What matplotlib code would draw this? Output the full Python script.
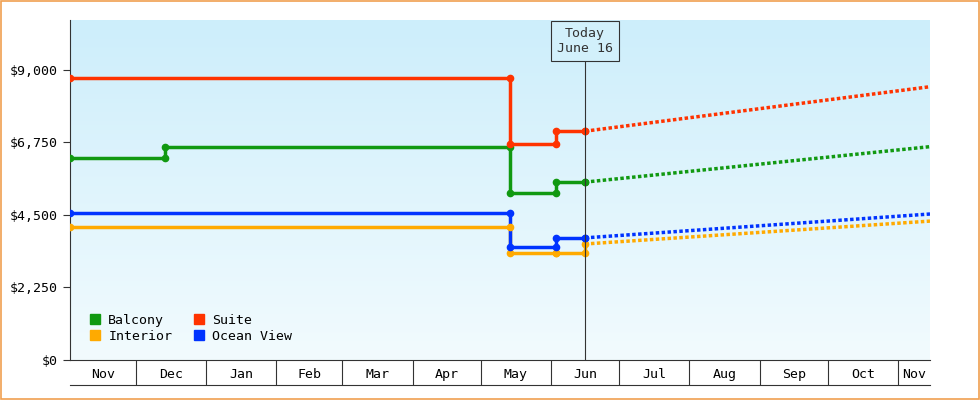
import matplotlib
matplotlib.use("Agg")
import matplotlib.pyplot as plt
import matplotlib.dates as mdates
import numpy as np
from datetime import date

plt.rcParams['font.family'] = ['DejaVu Sans Mono']

start = date(2023, 11, 2)
end = date(2024, 11, 15)
today = date(2024, 6, 16)

names = ["Balcony", "Suite", "Interior", "Ocean View"]
colors = ["#119911", "#ff3300", "#ffaa00", "#0033ff"]
hist_dates = {
    "Balcony": [date(2023, 11, 2), date(2023, 12, 14), date(2024, 5, 14), date(2024, 6, 3)],
    "Suite": [date(2023, 11, 2), date(2024, 5, 14), date(2024, 6, 3)],
    "Interior": [date(2023, 11, 2), date(2024, 5, 14), date(2024, 6, 3)],
    "Ocean View": [date(2023, 11, 2), date(2024, 5, 14), date(2024, 6, 3)],
}
hist_vals = {
    "Balcony": [6270, 6610, 5190, 5520],
    "Suite": [8760, 6700, 7100],
    "Interior": [4130, 3320, 3320],
    "Ocean View": [4560, 3510, 3790],
}
today_vals = {"Balcony": 5520, "Suite": 7100, "Interior": 3600, "Ocean View": 3790}
forecast_end = {"Balcony": 6620, "Suite": 8480, "Interior": 4310, "Ocean View": 4530}

fig = plt.figure(figsize=(9.8, 4), dpi=100)
ax = fig.add_axes([70/980, 40/400, 860/980, 340/400])
fig.patches.append(plt.Rectangle((0.001, 0.002), 0.998, 0.996, transform=fig.transFigure,
                                 fill=False, edgecolor="#f0a050", linewidth=1.2))

x0, x1 = mdates.date2num(start), mdates.date2num(end)
ymax = 10550
grad = np.linspace(0, 1, 256).reshape(-1, 1)
from matplotlib.colors import LinearSegmentedColormap
cmap = LinearSegmentedColormap.from_list("g", ["#cdeefb", "#f2fbfe"])
ax.imshow(grad, extent=[x0, x1, 0, ymax], origin="upper", aspect="auto", cmap=cmap, zorder=0)

for n, c in zip(names, colors):
    d = hist_dates[n] + [today]
    v = hist_vals[n] + [today_vals[n]]
    xs, ys = [], []
    for i in range(len(d) - 1):
        xs += [d[i], d[i + 1]]
        ys += [v[i], v[i]]
        xs.append(d[i + 1]); ys.append(v[i + 1])
    ax.plot(xs, ys, color=c, lw=2.5, zorder=3)
    ax.plot(d, v, 'o', color=c, ms=4.5, zorder=4)
    ax.plot(d[1:], v[:-1], 'o', color=c, ms=4.5, zorder=4)
    ax.plot([today, end], [today_vals[n], forecast_end[n]], color=c, lw=2.5, ls=(0, (1, 0.7)), zorder=3)

ax.set_xlim(x0, x1)
ax.set_ylim(0, ymax)
ax.set_yticks([0, 2250, 4500, 6750, 9000])
ax.set_yticklabels(["$0", "$2,250", "$4,500", "$6,750", "$9,000"], fontsize=9.5)
ax.tick_params(axis='y', length=5, color="#333333")

bounds = [date(2023, 12, 1)] + [date(2024, m, 1) for m in range(1, 12)]
ax.set_xticks([mdates.date2num(b) for b in bounds])
ax.set_xticklabels([])
ax.tick_params(axis='x', which='major', length=18, color="#333333", width=0.8)
edges = [start] + bounds + [end]
mids = [mdates.date2num(edges[i]) + (mdates.date2num(edges[i + 1]) - mdates.date2num(edges[i])) / 2 for i in range(len(edges) - 1)]
labels = ["Nov", "Dec", "Jan", "Feb", "Mar", "Apr", "May", "Jun", "Jul", "Aug", "Sep", "Oct", "Nov"]
ax.set_xticks(mids, minor=True)
ax.set_xticklabels(labels, minor=True, fontsize=9.5)
ax.tick_params(axis='x', which='minor', length=0, pad=6)
ax.plot([0, 1], [-25/340, -25/340], transform=ax.transAxes, color="#333333", lw=0.8, clip_on=False)

for s in ["top", "right"]:
    ax.spines[s].set_visible(False)
ax.spines["left"].set_color("#333333")
ax.spines["bottom"].set_color("#333333")

tx = mdates.date2num(today)
ax.plot([tx, tx], [0, 9300], color="#333333", lw=0.8, zorder=5)
ax.text(tx, 9900, "Today\nJune 16", ha="center", va="center", fontsize=9.5, color="#333333",
        bbox=dict(boxstyle="square,pad=0.45", fc="#d2f0fb", ec="#333333", lw=0.8), zorder=6)

from matplotlib.lines import Line2D
handles = [Line2D([], [], marker='s', ls='', color=colors[i], ms=7) for i in [0, 2, 1, 3]]
ax.legend(handles, ["Balcony", "Interior", "Suite", "Ocean View"], ncol=2, loc="lower left",
          bbox_to_anchor=(0.0, 0.015), frameon=False, fontsize=9.5, handletextpad=0.0,
          columnspacing=1.0, labelspacing=0.25)

fig.savefig("out.png", dpi=100)
